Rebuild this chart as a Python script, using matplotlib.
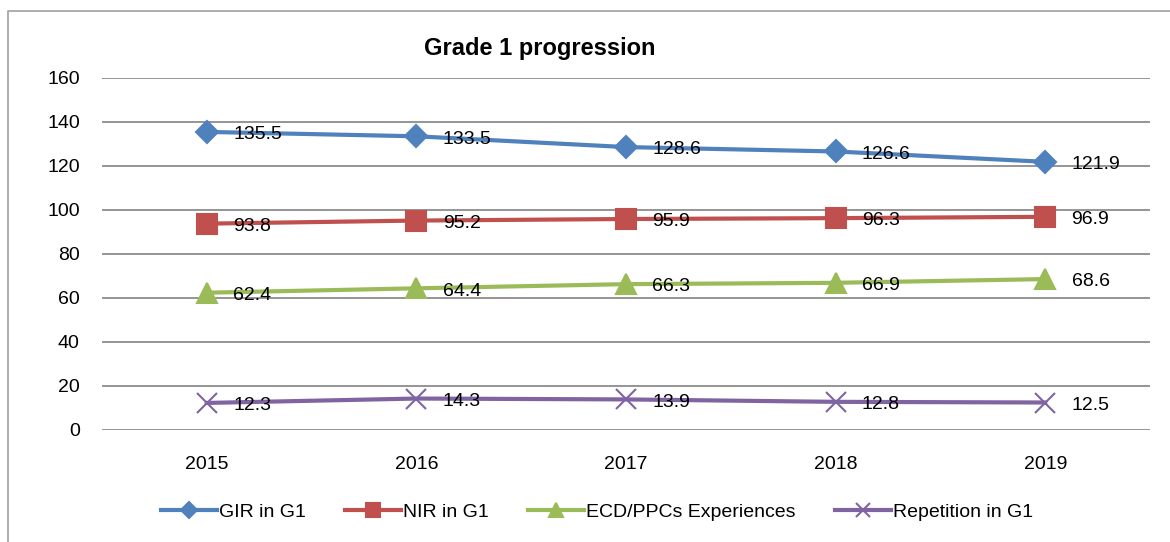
import matplotlib
matplotlib.use("Agg")
import matplotlib.pyplot as plt
from matplotlib.lines import Line2D

years = ["2015", "2016", "2017", "2018", "2019"]
gir = [135.5, 133.5, 128.6, 126.6, 121.9]
nir = [93.8, 95.2, 95.9, 96.3, 96.9]
ecd = [62.4, 64.4, 66.3, 66.9, 68.6]
rep = [12.3, 14.3, 13.9, 12.8, 12.5]
series_names = ["GIR in G1", "NIR in G1", "ECD/PPCs Experiences", "Repetition in G1"]
yticks = [0, 20, 40, 60, 80, 100, 120, 140, 160]

plt.rcParams['font.family'] = ['Liberation Sans', 'DejaVu Sans']

fig = plt.figure(figsize=(11.70, 5.42), dpi=100)
# partial outer frame (top and left edges only, as in the reference crop)
fig.add_artist(Line2D([8/1170, 8/1170, 1.0], [0.0, 1 - 11/542, 1 - 11/542],
                      transform=fig.transFigure, color='#a0a0a0', lw=1.2))
ax = fig.add_axes([102/1170, 1 - 430/542, 1048/1170, 352/542])

styles = [
    (gir, '#4F81BD', 'D', 11),
    (nir, '#C0504D', 's', 14),
    (ecd, '#9BBB59', '^', 14),
    (rep, '#8064A2', 'x', 14),
]
x = list(range(len(years)))
for (vals, col, mk, ms), name in zip(styles, series_names):
    ax.plot(x, vals, color=col, lw=3, marker=mk, ms=ms, mew=1.5, label=name, zorder=3)
    for xi, v in zip(x, vals):
        ax.annotate(f"{v}", (xi, v), xytext=(19, -2), textcoords='offset points',
                    ha='left', va='center', fontsize=14, color='black', zorder=4)

ax.set_xlim(-0.5, 4.5)
ax.set_ylim(0, 160)
ax.set_yticks(yticks)
ax.set_xticks(x)
ax.set_xticklabels(years)
ax.grid(axis='y', color='#8c8c8c', lw=1.3)
ax.set_axisbelow(True)
for s in ax.spines.values():
    s.set_visible(False)
ax.tick_params(axis='both', length=0, labelsize=14)
ax.tick_params(axis='x', pad=19)
ax.tick_params(axis='y', pad=16)

fig.text(540/1170, 1 - 48/542, "Grade 1 progression", ha='center', va='center',
         fontsize=17, fontweight='bold')

fig.legend(loc='center', bbox_to_anchor=(597/1170, 1 - 512/542), ncol=4, frameon=False,
           fontsize=14, handlelength=2.9, columnspacing=2.0, handletextpad=0.1,
           markerscale=0.7)

fig.savefig("out.png", dpi=100)
